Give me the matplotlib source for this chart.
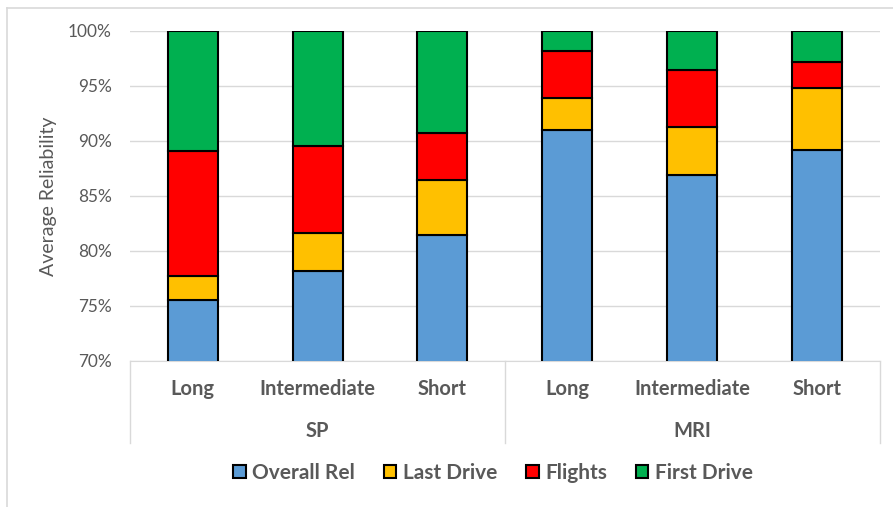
import numpy as np
import matplotlib
matplotlib.use("Agg")
import matplotlib.pyplot as plt
from matplotlib.lines import Line2D
from matplotlib.ticker import FuncFormatter

plt.rcParams['font.family'] = ['Lato', 'DejaVu Sans']

# Reliability breakdown per schedule length, for the two schemes
groups = ['SP', 'MRI']
lengths = ['Long', 'Intermediate', 'Short']
series = ['Overall Rel', 'Last Drive', 'Flights', 'First Drive']
colors = ['#5b9bd5', '#ffc000', '#ff0000', '#00b050']

overall_rel = [75.5, 78.15, 81.45, 91.0, 86.9, 89.15]
last_drive = [2.25, 3.45, 5.0, 2.9, 4.4, 5.65]
flights = [11.35, 7.95, 4.3, 4.3, 5.15, 2.4]
first_drive = [10.9, 10.45, 9.25, 1.8, 3.55, 2.8]

values = [overall_rel, last_drive, flights, first_drive]
gray = '#595959'

fig = plt.figure(figsize=(8.93, 5.07), dpi=100)
ax = fig.add_axes([0.1456, 0.288, 0.8398, 0.6509])

x = np.arange(len(groups) * len(lengths))
base = np.zeros(len(x))
for name, vals, col in zip(series, values, colors):
    vals = np.array(vals)
    ax.bar(x, vals, 0.4, bottom=base, color=col, edgecolor='black',
           linewidth=1.5, label=name, zorder=3)
    base += vals

ax.set_ylim(70, 100)
ax.set_xlim(-0.5, len(x) - 0.5)
ax.set_yticks(np.arange(70, 101, 5))
ax.yaxis.set_major_formatter(FuncFormatter(lambda v, p: '%d%%' % v))
ax.tick_params(axis='y', length=0, pad=13, labelsize=12.4, labelcolor=gray)
ax.set_xticks([])
ax.grid(axis='y', color='#d9d9d9', linewidth=1, zorder=0)
for s in ['top', 'right', 'left']:
    ax.spines[s].set_visible(False)
ax.spines['bottom'].set_color('#d9d9d9')
ax.set_ylabel('Average Reliability', fontsize=14, color=gray, labelpad=8)

# two-level category axis under the bars
trans = ax.get_xaxis_transform()
labels = lengths * len(groups)
for xi, lab in zip(x, labels):
    ax.text(xi, -0.085, lab, transform=trans, ha='center', va='center',
            fontsize=14.5, fontweight='bold', color=gray)
for gi, g in enumerate(groups):
    ax.text(gi * 3 + 1, -0.212, g, transform=trans, ha='center', va='center',
            fontsize=14.5, fontweight='bold', color=gray)
for xs in [-0.5, 2.5, 5.5]:
    ax.add_line(Line2D([xs, xs], [0, -0.248], transform=trans,
                       color='#d9d9d9', linewidth=1, clip_on=False))

leg = fig.legend(loc='center', bbox_to_anchor=(0.552, 0.067), ncol=4,
                 frameon=False, prop={'size': 15, 'weight': 'bold'},
                 handlelength=0.6, handleheight=0.6, handletextpad=0.3,
                 columnspacing=1.4)
for t in leg.get_texts():
    t.set_color(gray)

# chart area border
fig.add_artist(Line2D([0.008, 0.008], [0.0, 0.984], transform=fig.transFigure,
                      color='#d9d9d9', linewidth=1.2))
fig.add_artist(Line2D([0.008, 1.0], [0.984, 0.984], transform=fig.transFigure,
                      color='#d9d9d9', linewidth=1.2))

fig.savefig('out.png', dpi=100)
